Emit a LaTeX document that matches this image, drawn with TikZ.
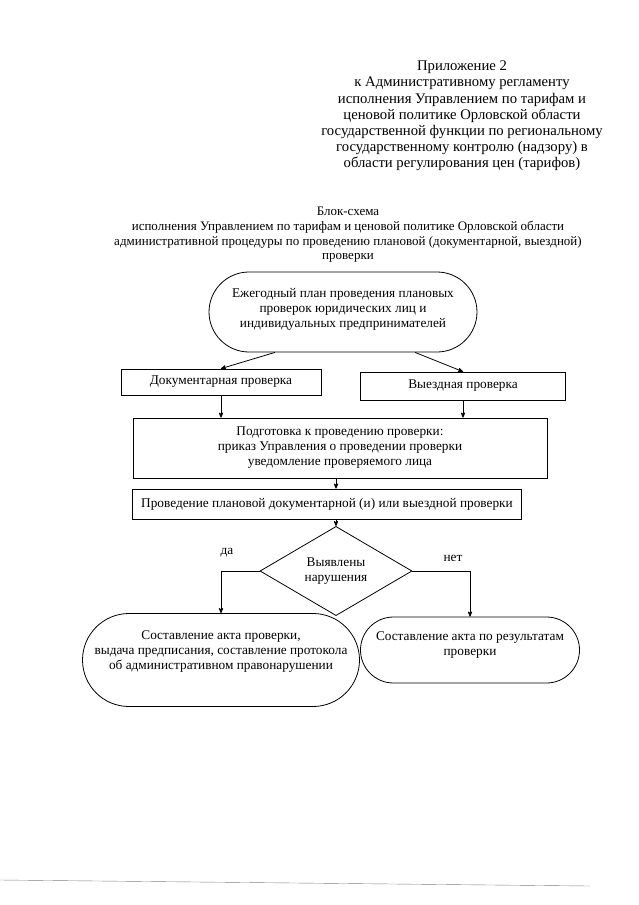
\documentclass[tikz,border=0pt]{standalone}
\usepackage{fontspec}
\setmainfont{Liberation Serif}
\usetikzlibrary{arrows,positioning,shapes.geometric,shapes.misc}

\begin{document}
\begin{tikzpicture}[x=1pt,y=-1pt,>=stealth',line width=0.8pt,
  txt/.style={font=\fontsize{13.3}{15}\selectfont,align=center},
  box/.style={txt,draw,rectangle,inner sep=0pt},
  term/.style={txt,draw,rounded rectangle,inner sep=0pt},
  test/.style={txt,draw,diamond,inner sep=0pt}]

            \useasboundingbox (0,0) rectangle (639,905);

            % heading
            \node[font=\fontsize{14.7}{16.2}\selectfont,align=center] (app) at (462,116)
                {Приложение 2\\к Административному регламенту\\исполнения Управлением по тарифам и\\ценовой политике Орловской области\\государственной функции по региональному\\государственному контролю (надзору) в\\области регулирования цен (тарифов)};

            \node[txt,font=\fontsize{13}{14.6}\selectfont] (title) at (348,235)
                {Блок-схема\\исполнения Управлением по тарифам и ценовой политике Орловской области\\административной процедуры по проведению плановой (документарной, выездной)\\проверки};

            % flow
            \node[term,minimum width=268pt,minimum height=80pt,text depth=9pt] (plan) at (343,312)
                {Ежегодный план проведения плановых\\проверок юридических лиц и\\индивидуальных предпринимателей};

            \node[box,minimum width=200pt,minimum height=26pt] (doc) at (221,382) {Документарная проверка};
            \node[box,minimum width=205pt,minimum height=28pt] (field) at (463,386) {Выездная проверка};

            \node[box,minimum width=414pt,minimum height=60pt] (prep) at (340,448)
                {Подготовка к проведению проверки:\\приказ Управления о проведении проверки\\уведомление проверяемого лица};

            \node[box,minimum width=389pt,minimum height=30pt] (run) at (327,504)
                {Проведение плановой документарной (и) или выездной проверки};

            \node[test,minimum width=152pt,minimum height=68pt] (viol) at (336,571) {Выявлены\\нарушения};

            \node[txt] (yes) at (227,553) {да};
            \node[txt] (no) at (453,558) {нет};

            \node[term,minimum width=277pt,minimum height=93pt,text depth=19pt] (act) at (221,660)
                {Составление акта проверки,\\выдача предписания, составление протокола\\об административном правонарушении};
            \node[term,minimum width=219pt,minimum height=66pt,text depth=13pt] (rep) at (470,650)
                {Составление акта по результатам\\проверки};

            \path[->] ([xshift=-68pt]plan.south) edge (doc.north)
                      ([xshift=72pt]plan.south) edge (field.north)
                      (doc.south) edge (doc.south |- prep.north)
                      (field.south) edge (field.south |- prep.north)
                      (prep.south -| viol.north) edge (run.north -| viol.north)
                      (run.south -| viol.north) edge (viol.north);

            \draw[->] (viol.west) -| (act.north);
            \draw[->] (viol.east) -| (rep.north);

            % page edge
            \draw[gray,thin] (0,880) -- (590,886);

        \end{tikzpicture}
\end{document}
